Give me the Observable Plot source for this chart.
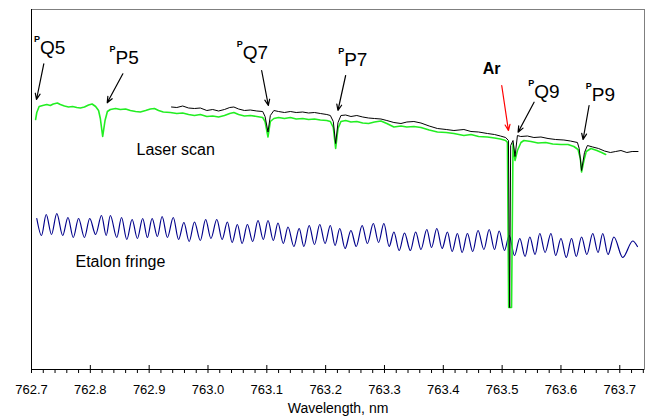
<!DOCTYPE html>
<html>
<head>
<meta charset="utf-8">
<script src="https://cdn.jsdelivr.net/npm/d3@7"></script>
<script src="https://cdn.jsdelivr.net/npm/@observablehq/plot@0.6"></script>
<style>
  html, body { margin: 0; padding: 0; background: #fff; }
  #chart svg { display: block; }
</style>
</head>
<body>
<div id="chart"></div>
<script>
// Laser scan (green), second scan (black) and etalon fringe: wavelength in nm, signal in arbitrary units
const greenWl = [762.707,762.709,762.713,762.719,762.726,762.732,762.737,762.744,762.749,762.756,762.763,762.770,762.777,762.783,762.790,762.797,762.803,762.809,762.814,762.817,762.821,762.825,762.829,762.834,762.843,762.851,762.860,762.868,762.877,762.885,762.894,762.902,762.909,762.916,762.924,762.936,762.947,762.957,762.967,762.977,762.987,762.998,763.008,763.018,763.028,763.037,763.044,763.052,763.062,763.072,763.083,763.093,763.097,763.102,763.106,763.112,763.120,763.130,763.140,763.150,763.161,763.171,763.181,763.191,763.202,763.208,763.213,763.217,763.221,763.226,763.234,763.243,763.253,763.263,763.273,763.283,763.294,763.304,763.316,763.328,763.338,763.350,763.362,763.376,763.390,763.405,763.418,763.435,763.447,763.460,763.475,763.487,763.497,763.506,763.5090,763.5111,763.5160,763.5185,763.5219,763.5260,763.5320,763.5370,763.549,763.561,763.574,763.586,763.600,763.612,763.622,763.629,763.633,763.635,763.639,763.643,763.651,763.661,763.669,763.676];
const greenSig = [24.6,25.3,25.9,26.0,26.1,26.0,26.15,26.25,26.1,25.95,25.85,25.9,25.8,25.75,25.85,26.05,26.15,25.9,25.5,24.7,22.9,24.5,25.4,25.6,25.7,25.6,25.65,25.5,25.4,25.35,25.5,25.65,25.7,25.5,25.35,25.3,25.2,25.25,25.1,25.0,25.1,24.9,24.95,24.85,25.0,25.2,25.3,25.1,24.95,25.0,24.9,24.8,24.4,22.85,24.4,24.7,24.8,24.7,24.8,24.65,24.7,24.6,24.65,24.55,24.5,24.4,23.8,21.7,23.7,24.4,24.5,24.35,24.4,24.25,24.2,24.35,24.45,24.2,23.85,23.95,23.85,23.9,23.8,23.55,23.35,23.3,23.2,23.0,23.1,22.9,22.85,22.75,22.65,22.5,22.3,5.8,5.8,22.2,20.5,21.5,22.3,22.5,22.4,22.25,22.3,22.15,22.1,22.1,21.9,21.6,20.7,19.35,20.5,21.4,21.7,21.5,21.3,21.1];

const blackWl = [762.938,762.947,762.957,762.967,762.977,762.987,762.998,763.008,763.018,763.028,763.037,763.044,763.052,763.062,763.072,763.083,763.093,763.097,763.102,763.106,763.112,763.120,763.130,763.140,763.150,763.161,763.171,763.181,763.191,763.202,763.208,763.213,763.217,763.221,763.226,763.234,763.243,763.253,763.263,763.273,763.283,763.294,763.304,763.316,763.328,763.338,763.350,763.362,763.376,763.390,763.405,763.418,763.435,763.447,763.460,763.475,763.487,763.497,763.506,763.5107,763.5128,763.5145,763.5185,763.5219,763.5260,763.5316,763.543,763.554,763.566,763.578,763.591,763.605,763.616,763.628,763.631,763.635,763.640,763.645,763.654,763.664,763.674,763.684,763.693,763.702,763.712,763.721,763.731];
const blackSig = [25.85,25.8,25.95,25.75,25.7,25.75,25.5,25.6,25.45,25.6,25.8,25.85,25.65,25.5,25.55,25.45,25.4,24.9,23.35,25.0,25.5,25.4,25.3,25.4,25.3,25.35,25.25,25.3,25.2,25.1,25.0,24.4,22.2,24.3,25.0,25.05,24.9,25.0,24.85,24.75,24.7,24.65,24.5,24.3,24.2,24.35,24.4,24.25,23.95,23.7,23.6,23.5,23.6,23.4,23.35,23.2,23.1,22.95,22.8,22.5,5.8,22.0,22.5,20.9,23.0,22.9,22.95,22.8,22.85,22.7,22.6,22.55,22.45,22.3,21.7,19.5,21.3,22.0,21.85,21.7,21.45,21.3,21.4,21.5,21.3,21.4,21.4];

// Etalon fringe: successive maxima and minima
const fringeWl = [762.709,762.717,762.725,762.734,762.743,762.753,762.762,762.771,762.780,762.790,762.799,762.809,762.819,762.827,762.834,762.845,762.853,762.862,762.871,762.880,762.889,762.897,762.905,762.914,762.922,762.931,762.941,762.950,762.959,762.968,762.977,762.987,762.996,763.005,763.015,763.024,763.033,763.041,763.050,763.058,763.067,763.076,763.085,763.094,763.102,763.111,763.119,763.128,763.136,763.146,763.155,763.163,763.172,763.181,763.190,763.199,763.208,763.216,763.224,763.233,763.243,763.252,763.262,763.271,763.281,763.290,763.299,763.308,763.316,763.325,763.334,763.344,763.353,763.362,763.372,763.380,763.389,763.398,763.407,763.415,763.424,763.432,763.441,763.450,763.459,763.469,763.478,763.487,763.495,763.504,763.512,763.521,763.530,763.539,763.547,763.556,763.564,763.573,763.583,763.591,763.600,763.609,763.618,763.626,763.635,763.644,763.654,763.663,763.671,763.680,763.690,763.705,763.722,763.730];
const fringeSig = [14.7,13.0,15.1,13.1,15.2,13.0,14.8,12.8,14.7,12.8,14.7,13.1,15.0,13.0,15.0,12.8,14.8,12.6,14.6,12.7,14.7,12.8,14.7,12.9,14.9,12.8,14.8,12.6,14.3,12.4,14.35,12.5,14.6,12.7,14.6,12.6,14.35,12.3,14.1,12.2,14.1,12.4,14.5,12.6,14.5,12.5,14.25,12.2,13.85,11.9,13.7,11.9,14.0,12.1,14.1,12.2,14.0,12.0,13.7,11.7,13.5,11.9,14.0,12.2,14.2,12.3,14.2,11.9,13.35,11.5,13.25,11.5,13.35,11.6,13.6,11.8,13.7,11.7,13.35,11.4,13.2,11.3,13.2,11.4,13.5,11.6,13.6,11.6,13.45,11.5,13.0,11.0,12.7,10.9,12.85,11.1,13.2,11.3,13.2,11.0,12.7,10.8,12.7,10.9,12.85,11.1,13.2,11.3,13.2,11.1,12.85,10.8,12.45,11.9];

// Axis ticks
const xDomain = [762.7, 763.742];
const yDomain = [-0.4, 35.6];
const majorTicks = [762.7,762.8,762.9,763.0,763.1,763.2,763.3,763.4,763.5,763.6,763.7];
const minorTicks = [762.72,762.74,762.76,762.78,762.82,762.84,762.86,762.88,762.92,762.94,762.96,762.98,763.02,763.04,763.06,763.08,763.12,763.14,763.16,763.18,763.22,763.24,763.26,763.28,763.32,763.34,763.36,763.38,763.42,763.44,763.46,763.48,763.52,763.54,763.56,763.58,763.62,763.64,763.66,763.68,763.72,763.74];

// Line assignments: superscript branch letter, main label, label anchor, arrow tail and head
const lineSup   = ["P","P","P","P","P","P"];
const lineMain  = ["Q5","P5","Q7","P7","Q9","P9"];
const lineLabX  = [762.7145,762.8429,763.0589,763.2315,763.5546,763.6524];
const lineLabY  = [31.2,30.17,30.7,30.0,26.8,26.5];
const arrowX1   = [762.7209,762.8553,763.0912,763.234,763.5543,763.6478];
const arrowY1   = [30.17,29.17,29.5,29.0,26.33,26.0];
const arrowX2   = [762.7085,762.8287,763.1026,763.2209,763.5271,763.6376];
const arrowY2   = [26.6,26.27,26.0,25.5,23.33,22.6];

// Argon reference line
const argon = {label: "Ar", x: 763.467, y: 29.2, x1: 763.4993, y1: 28.0, x2: 763.5107, y2: 23.5};

// Trace captions
const captions = [
  {text: "Laser scan", x: 762.8786, y: 21.1},
  {text: "Etalon fringe", x: 762.7748, y: 9.9}
];

const green = greenWl.map((x, i) => ({x, y: greenSig[i]}));
const black = blackWl.map((x, i) => ({x, y: blackSig[i]}));
const fringe = fringeWl.map((x, i) => ({x, y: fringeSig[i]}));
const lines = lineMain.map((m, i) => ({sup: lineSup[i], main: m, x: lineLabX[i], y: lineLabY[i],
  x1: arrowX1[i], y1: arrowY1[i], x2: arrowX2[i], y2: arrowY2[i]}));

const font = "'Liberation Sans', Arial, Helvetica, sans-serif";

const chart = Plot.plot({
  width: 647,
  height: 417,
  marginLeft: 31,
  marginRight: 3,
  marginTop: 9,
  marginBottom: 48,
  style: {fontFamily: font, background: "#fff", overflow: "visible"},
  x: {domain: xDomain, axis: null},
  y: {domain: yDomain, axis: null},
  marks: [
    Plot.frame({stroke: "#7f7f7f"}),
    Plot.ruleX([xDomain[0]], {stroke: "#000"}),
    Plot.ruleY([yDomain[0]], {stroke: "#000"}),
    Plot.axisX(minorTicks, {tickSize: 4, text: null, stroke: "#000"}),
    Plot.axisX(majorTicks, {tickSize: 8, dy: -4, text: null, stroke: "#000"}),
    Plot.axisX(majorTicks, {tickSize: 0, tickPadding: 15, tickFormat: d => d.toFixed(1),
      fontSize: 13, fill: "#000", label: null}),
    Plot.text(["Wavelength, nm"], {frameAnchor: "bottom", dy: 43, lineAnchor: "bottom",
      fontSize: 14, fill: "#000", style: "letter-spacing: 0.4px"}),

    Plot.line(fringe, {x: "x", y: "y", curve: "monotone-x", stroke: "#00008b", strokeWidth: 1.2}),
    Plot.line(green, {x: "x", y: "y", stroke: "#22ee22", strokeWidth: 1.6}),
    Plot.line(black, {x: "x", y: "y", stroke: "#000", strokeWidth: 1}),

    Plot.arrow(lines, {x1: "x1", y1: "y1", x2: "x2", y2: "y2", stroke: "#000", strokeWidth: 1.2,
      headLength: 8, headAngle: 45}),
    Plot.arrow([argon], {x1: "x1", y1: "y1", x2: "x2", y2: "y2", stroke: "#ff0000", strokeWidth: 1.2,
      headLength: 8, headAngle: 45}),

    Plot.text(lines, {x: "x", y: "y", text: "main", textAnchor: "start", lineAnchor: "bottom",
      fontSize: 19, fill: "#000"}),
    Plot.text(lines, {x: "x", y: "y", text: "sup", textAnchor: "start", lineAnchor: "bottom",
      dx: -6, dy: -12, fontSize: 9, fontWeight: "bold", fill: "#000"}),
    Plot.text([argon], {x: "x", y: "y", text: "label", textAnchor: "start", lineAnchor: "bottom",
      fontSize: 16, fontWeight: "bold", fill: "#000"}),
    Plot.text(captions, {x: "x", y: "y", text: "text", textAnchor: "start", lineAnchor: "bottom",
      fontSize: 16, fill: "#000"})
  ]
});

document.getElementById("chart").appendChild(chart);
</script>
</body>
</html>
